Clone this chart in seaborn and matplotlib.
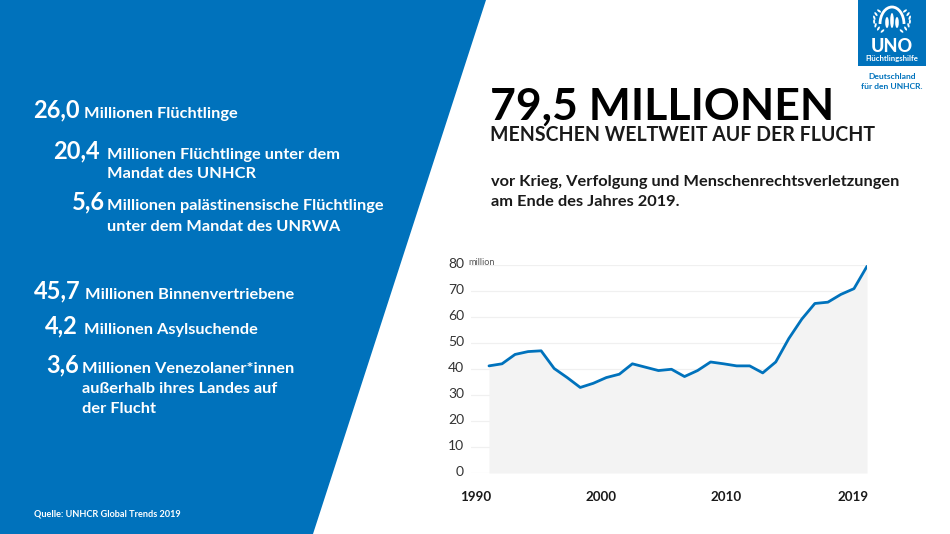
import math
import matplotlib
matplotlib.use("Agg")
import matplotlib.pyplot as plt
from matplotlib.patches import Polygon, Rectangle, Ellipse, Arc
from matplotlib.transforms import ScaledTranslation
import pandas as pd
import seaborn as sns

# displaced people, one value per point on the curve
point_index = list(range(30))
displaced = [41.2, 42.0, 45.6, 46.7, 47.0, 40.2, 36.7, 32.9, 34.5, 36.7,
             38.0, 42.0, 40.7, 39.4, 39.9, 37.1, 39.4, 42.7, 42.0, 41.2,
             41.2, 38.5, 42.7, 51.7, 59.2, 65.2, 65.7, 68.7, 70.9, 79.5]
y_ticks = [0, 10, 20, 30, 40, 50, 60, 70, 80]
year_labels = ["1990", "2000", "2010", "2019"]
year_label_pos = [-1.0, 8.6, 18.2, 27.9]

# left panel: number, indent x, text x, baseline y, text
facts = [
    ("26,0", 33, 84, 118, "Millionen Flüchtlinge"),
    ("20,4", 53, 107, 159, "Millionen Flüchtlinge unter dem"),
    ("", 0, 107, 178, "Mandat des UNHCR"),
    ("5,6", 72, 107, 210, "Millionen palästinensische Flüchtlinge"),
    ("", 0, 107, 231, "unter dem Mandat des UNRWA"),
    ("45,7", 34, 85, 299, "Millionen Binnenvertriebene"),
    ("4,2", 45, 84, 334, "Millionen Asylsuchende"),
    ("3,6", 46, 82, 373, "Millionen Venezolaner*innen"),
    ("", 0, 82, 393, "außerhalb ihres Landes auf"),
    ("", 0, 82, 413, "der Flucht"),
]

BLUE = "#0072BC"
DARK = "#1a1a1a"
W, H = 950, 534

sns.set_theme(style="white")
plt.rcParams["font.family"] = ["Lato", "DejaVu Sans"]

fig = plt.figure(figsize=(9.5, 5.34), dpi=100)

# background layer in pixel coordinates
bg = fig.add_axes([0, 0, 1, 1])
bg.set_xlim(0, W)
bg.set_ylim(H, 0)
bg.axis("off")
bg.add_patch(Polygon([(0, 0), (486, 0), (313, 534), (0, 534)], color=BLUE, lw=0))

for num, nx, tx, y, txt in facts:
    if num:
        bg.text(nx, y - 1, num, color="white", fontsize=17, fontweight="bold", va="baseline")
    bg.text(tx, y, txt, color="white", fontsize=11.75, fontweight="bold", va="baseline")
bg.text(34, 517, "Quelle: UNHCR Global Trends 2019", color="white", fontsize=6.6,
        fontweight="bold", va="baseline")

# headline
bg.text(490, 120, "79,5 MILLIONEN", color="#000000", fontsize=32, fontweight="bold", va="baseline")
bg.text(490, 141, "MENSCHEN WELTWEIT AUF DER FLUCHT", color=DARK, fontsize=14.05,
        fontweight="bold", va="baseline")
bg.text(491, 186, "vor Krieg, Verfolgung und Menschenrechtsverletzungen", color=DARK,
        fontsize=11.75, fontweight="bold", va="baseline")
bg.text(491, 206, "am Ende des Jahres 2019.", color=DARK, fontsize=11.75, fontweight="bold",
        va="baseline")

# logo
bg.add_patch(Rectangle((858, 0), 68, 66, color=BLUE, lw=0))
# laurel leaves either side of the emblem
for side in (-1, 1):
    for deg in range(-58, 50, 17):
        a = math.radians(deg)
        lx = 892 + side * 18 * math.cos(a)
        ly = 20 - 13 * math.sin(a)
        bg.add_patch(Ellipse((lx, ly), 2, 4.6, angle=side * (deg + 10), color="white", lw=0))
# shelter and figures
bg.add_patch(Arc((892, 24), 24, 34, theta1=180, theta2=360, color="white", lw=2))
for px, h in [(887, 11), (892, 15), (897, 11)]:
    bg.add_patch(Ellipse((px, 28 - h / 2), 3.6, h, color="white", lw=0))
bg.text(892, 52, "UNO", color="white", fontsize=13, fontweight="black", ha="center", va="baseline")
bg.text(892, 61, "Flüchtlingshilfe", color="white", fontsize=5.6, fontweight="bold",
        ha="center", va="baseline")
bg.text(892, 79, "Deutschland", color=BLUE, fontsize=6.1, fontweight="bold", ha="center", va="baseline")
bg.text(892, 89, "für den UNHCR.", color=BLUE, fontsize=6.1, fontweight="bold", ha="center", va="baseline")

# chart, placed so the plot area lands at x 471-867, y 265-473
ax = fig.add_axes([471 / W, 1 - 473 / H, (867 - 471) / W, (473 - 265) / H])
ax.patch.set_alpha(0)
df = pd.DataFrame({"idx": point_index, "value": displaced})
ax.fill_between(df["idx"], df["value"], color="#f3f3f3", lw=0, zorder=1)
sns.lineplot(data=df, x="idx", y="value", color=BLUE, linewidth=2, ax=ax, zorder=3)
ax.set_xlim(-1.38, 29)
ax.set_ylim(0, 80)
ax.set_yticks(y_ticks)
ax.set_xticks(year_label_pos)
ax.set_xticklabels(year_labels, fontsize=9.6, fontweight="bold", color=DARK)
ax.tick_params(axis="x", length=0, pad=13)
ax.tick_params(axis="y", length=0, pad=5, labelsize=10, labelcolor="#333333")
# y labels sit a little above their gridlines
nudge = ScaledTranslation(0, 1.5 / 100, fig.dpi_scale_trans)
for lab in ax.get_yticklabels():
    lab.set_transform(lab.get_transform() + nudge)
ax.set_xlabel("")
ax.set_ylabel("")
ax.grid(axis="y", color="#f0f0f0", lw=0.9, zorder=0)
ax.set_axisbelow(True)
sns.despine(ax=ax, left=True, bottom=True)
ax.text(-0.55, 81, "million", fontsize=6.6, color="#555555", va="center", ha="center",
        clip_on=False)

fig.savefig("out.png", dpi=100)
